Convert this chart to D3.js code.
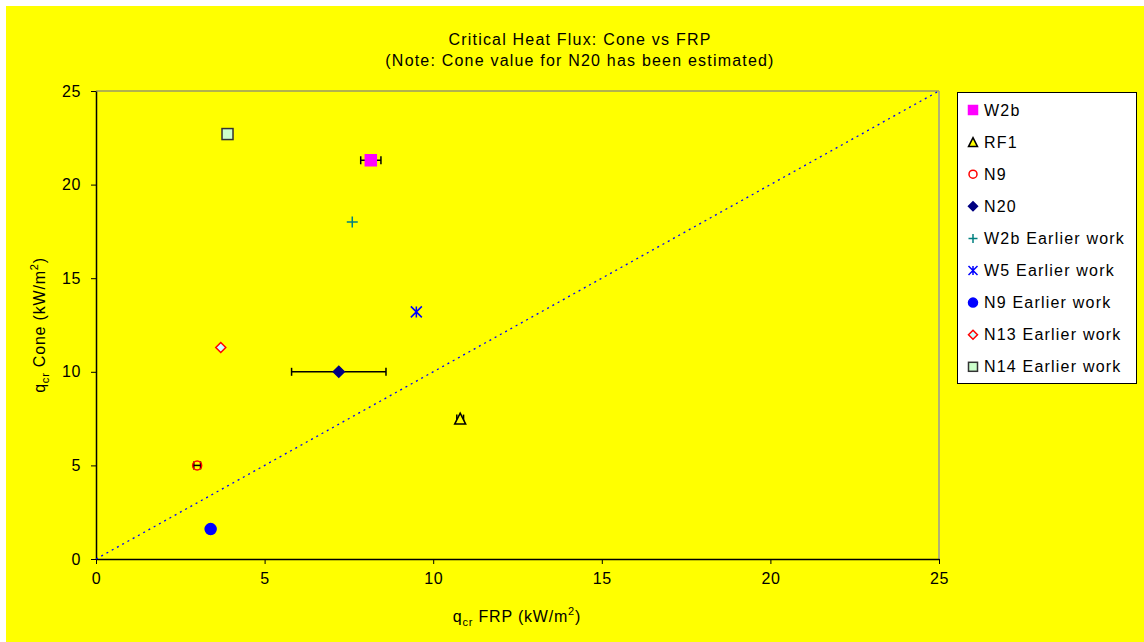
<!DOCTYPE html>
<html>
<head>
<meta charset="utf-8">
<script src="https://cdn.jsdelivr.net/npm/d3@7"></script>
<style>
  html, body { margin: 0; padding: 0; background: #fff; }
  svg { display: block; font-family: "Liberation Sans", Arial, sans-serif; }
</style>
</head>
<body>
<svg id="chart" width="1144" height="642"></svg>
<script>
// Series names, in legend order
const seriesNames = ["W2b", "RF1", "N9", "N20", "W2b Earlier work", "W5 Earlier work",
                     "N9 Earlier work", "N13 Earlier work", "N14 Earlier work"];
// Critical heat flux from FRP test (x) and cone test (y), kW/m2
const frpValues  = [8.15, 10.8, 3.0, 7.2, 7.6, 9.5, 3.4, 3.7, 3.9];
const coneValues = [21.3, 7.5, 5.0, 10.0, 18.0, 13.2, 1.6, 11.3, 22.7];
// Horizontal error (± on FRP value); null = no error bar
const frpErrors  = [0.3, 0.1, 0.1, 1.4, null, null, null, null, null];
const xTicks = [0, 5, 10, 15, 20, 25];
const yTicks = [0, 5, 10, 15, 20, 25];

// Marker styling per series
const markers = [
  { type: "square",   fill: "#ff00ff", stroke: "#ff00ff", size: 11 },
  { type: "triangle", fill: "#ffff00", stroke: "#000000", size: 11 },
  { type: "circle",   fill: "none",    stroke: "#ff0000", size: 10 },
  { type: "diamond",  fill: "#000080", stroke: "#000080", size: 11 },
  { type: "plus",     fill: "none",    stroke: "#008080", size: 11 },
  { type: "star",     fill: "none",    stroke: "#0000ff", size: 11 },
  { type: "circle",   fill: "#0000ff", stroke: "#0000ff", size: 11 },
  { type: "diamond",  fill: "#ccffff", stroke: "#ff0000", size: 10 },
  { type: "square",   fill: "#ccffcc", stroke: "#333333", size: 11 }
];

const FONT = "16px";
const SPACING = "1.2px";

const svg = d3.select("#chart");
svg.append("rect").attr("x", 6).attr("y", 6).attr("width", 1138).attr("height", 636)
  .attr("fill", "#ffff00");

const plot = { left: 96, top: 91, right: 939, bottom: 559 };
const x = d3.scaleLinear().domain([0, 25]).range([plot.left, plot.right]);
const y = d3.scaleLinear().domain([0, 25]).range([plot.bottom, plot.top]);

// Plot area frame (top/right in grey)
svg.append("line").attr("x1", plot.left).attr("x2", plot.right)
  .attr("y1", plot.top).attr("y2", plot.top).attr("stroke", "#999966").attr("stroke-width", 1.5);
svg.append("line").attr("x1", plot.right).attr("x2", plot.right)
  .attr("y1", plot.top).attr("y2", plot.bottom).attr("stroke", "#999999").attr("stroke-width", 1.5);

// Axes
const xAxis = svg.append("g").attr("transform", `translate(0,${plot.bottom})`)
  .call(d3.axisBottom(x).tickValues(xTicks).tickFormat(d3.format("d")).tickSizeInner(5).tickSizeOuter(0));
const yAxis = svg.append("g").attr("transform", `translate(${plot.left},0)`)
  .call(d3.axisLeft(y).tickValues(yTicks).tickFormat(d3.format("d")).tickSizeInner(5).tickSizeOuter(0));
[xAxis, yAxis].forEach(g => {
  g.select(".domain").attr("stroke", "#000").attr("stroke-width", 1.5);
  g.selectAll(".tick line").attr("stroke", "#000");
  g.selectAll(".tick text").attr("font-size", FONT).attr("fill", "#000")
    .attr("letter-spacing", "0.6px")
    .attr("font-family", "Liberation Sans, Arial, sans-serif");
});
xAxis.selectAll(".tick text").attr("y", 14).attr("dy", "0.71em");
yAxis.selectAll(".tick text").attr("x", -15);

// 1:1 reference line
svg.append("line")
  .attr("x1", x(0)).attr("y1", y(0)).attr("x2", x(25)).attr("y2", y(25))
  .attr("stroke", "#0000ff").attr("stroke-width", 1.3).attr("stroke-dasharray", "2,4");

// Titles
const title = svg.append("text").attr("x", 580).attr("text-anchor", "middle")
  .attr("font-size", FONT).attr("letter-spacing", SPACING).attr("fill", "#000");
title.append("tspan").attr("x", 580).attr("y", 45).text("Critical Heat Flux: Cone vs FRP");
title.append("tspan").attr("x", 580).attr("y", 66).text("(Note: Cone value for N20 has been estimated)");

const xt = svg.append("text").attr("x", 517).attr("y", 622).attr("text-anchor", "middle")
  .attr("font-size", FONT).attr("letter-spacing", "0.8px").attr("fill", "#000");
xt.append("tspan").text("q");
xt.append("tspan").attr("font-size", "11px").attr("dy", 4).text("cr");
xt.append("tspan").attr("dy", -4).text(" FRP (kW/m");
xt.append("tspan").attr("font-size", "11px").attr("dy", -7).text("2");
xt.append("tspan").attr("dy", 7).text(")");

const yt = svg.append("text").attr("transform", `translate(45,${(plot.top + plot.bottom) / 2}) rotate(-90)`)
  .attr("text-anchor", "middle").attr("font-size", FONT).attr("letter-spacing", "0.8px").attr("fill", "#000");
yt.append("tspan").text("q");
yt.append("tspan").attr("font-size", "11px").attr("dy", 4).text("cr");
yt.append("tspan").attr("dy", -4).text(" Cone (kW/m");
yt.append("tspan").attr("font-size", "11px").attr("dy", -7).text("2");
yt.append("tspan").attr("dy", 7).text(")");

// Marker drawing
function drawMarker(g, m) {
  const s = m.size, h = s / 2;
  switch (m.type) {
    case "square":
      g.append("rect").attr("x", -h).attr("y", -h).attr("width", s).attr("height", s)
        .attr("fill", m.fill).attr("stroke", m.stroke).attr("stroke-width", 1.5);
      break;
    case "triangle":
      g.append("path").attr("d", `M0,${-h}L${h},${h}L${-h},${h}Z`)
        .attr("fill", m.fill).attr("stroke", m.stroke).attr("stroke-width", 1.5);
      break;
    case "circle":
      g.append("circle").attr("r", h - (m.fill === "none" ? 0.5 : 0))
        .attr("fill", m.fill).attr("stroke", m.stroke).attr("stroke-width", 1.5);
      break;
    case "diamond":
      g.append("path").attr("d", `M0,${-h}L${h},0L0,${h}L${-h},0Z`)
        .attr("fill", m.fill).attr("stroke", m.stroke).attr("stroke-width", 1.5);
      break;
    case "plus":
      g.append("path").attr("d", `M${-h},0H${h}M0,${-h}V${h}`)
        .attr("stroke", m.stroke).attr("stroke-width", 1.5);
      break;
    case "star":
      g.append("path").attr("d", `M${-h},${-h}L${h},${h}M${-h},${h}L${h},${-h}M0,${-h}V${h}`)
        .attr("stroke", m.stroke).attr("stroke-width", 1.5);
      break;
  }
}

// Error bars then markers
seriesNames.forEach((name, i) => {
  const e = frpErrors[i];
  const cx = x(frpValues[i]), cy = y(coneValues[i]);
  if (e !== null) {
    const g = svg.append("g").attr("stroke", "#000").attr("stroke-width", 1.5);
    g.append("line").attr("x1", x(frpValues[i] - e)).attr("x2", x(frpValues[i] + e))
      .attr("y1", cy).attr("y2", cy);
    [frpValues[i] - e, frpValues[i] + e].forEach(v => {
      g.append("line").attr("x1", x(v)).attr("x2", x(v)).attr("y1", cy - 4).attr("y2", cy + 4);
    });
  }
  drawMarker(svg.append("g").attr("transform", `translate(${cx},${cy})`), markers[i]);
});

// Legend
const legend = svg.append("g");
legend.append("rect").attr("x", 957.5).attr("y", 92.5).attr("width", 179).attr("height", 291)
  .attr("fill", "#fff").attr("stroke", "#000").attr("stroke-width", 1);
seriesNames.forEach((name, i) => {
  const ly = 110 + i * 32.1;
  const m = Object.assign({}, markers[i], { size: Math.min(markers[i].size, 9) });
  drawMarker(legend.append("g").attr("transform", `translate(973,${ly})`), m);
  legend.append("text").attr("x", 984).attr("y", ly + 5.5).attr("font-size", FONT)
    .attr("letter-spacing", SPACING).attr("fill", "#000").text(name);
});
</script>
</body>
</html>
